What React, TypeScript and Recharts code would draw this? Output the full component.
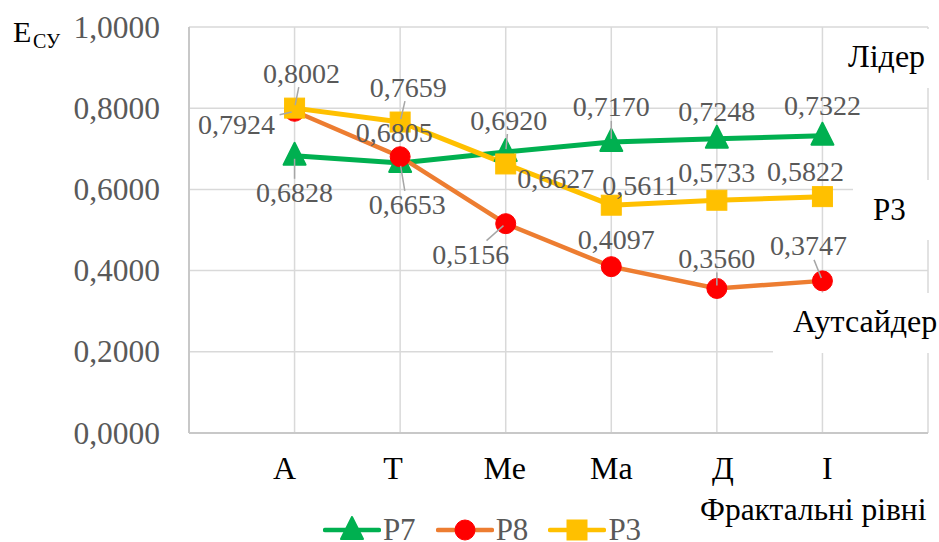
import React from 'react';
import { LineChart, Line, XAxis, YAxis, CartesianGrid, Legend, LabelList } from 'recharts';

const categories = ['А', 'Т', 'Ме', 'Ма', 'Д', 'І'];
const p7Values = [0.6828, 0.6653, 0.692, 0.717, 0.7248, 0.7322];
const p8Values = [0.7924, 0.6805, 0.5156, 0.4097, 0.356, 0.3747];
const p3Values = [0.8002, 0.7659, 0.6627, 0.5611, 0.5733, 0.5822];
const yTicks = [0, 0.2, 0.4, 0.6, 0.8, 1];
const xTicks = [0, 1, 2, 3, 4, 5, 6, 7];

const data = categories.map((cat, i) => ({
  pos: i + 1,
  cat,
  p7: p7Values[i],
  p8: p8Values[i],
  p3: p3Values[i],
}));

// small horizontal nudges of the category labels, as in the original
const xLabelNudge = [-10, -7, -1, 0, 6, 5];

// data label placement relative to the marker: [dx, dy, leader line?]
const p7Place = [[0, 37, 1], [7, 42, 1], [3, -32, 1], [0, -35, 1], [0, -27, 0], [0, -30, 0]];
const p8Place = [[-58, 13, 1], [-6, -24, 0], [-35, 31, 1], [5, -27, 0], [0, -30, 1], [-14, -35, 1]];
const p3Place = [[7, -35, 1], [8, -35, 1], [50, 15, 0], [29, -20, 0], [0, -28, 0], [-17, -25, 0]];

const FONT = "'Liberation Serif', 'Times New Roman', Times, serif";
const GREEN = '#00B050';
const ORANGE = '#ED7D31';
const RED = '#FF0000';
const YELLOW = '#FFC000';
const GRID = '#D9D9D9';
const GRAY_TEXT = '#595959';

const fmt = (v: number) => v.toFixed(4).replace('.', ',');

function makeLabel(place: number[][]) {
  return (props: any) => {
    const { x, y, value, index } = props;
    const [dx, dy, lead] = place[index];
    const lx = x + dx;
    const ly = y + dy;
    let leader = null;
    if (lead) {
      const hw = 43, hh = 14;
      const tx = dx !== 0 ? hw / Math.abs(dx) : Infinity;
      const ty = dy !== 0 ? hh / Math.abs(dy) : Infinity;
      const t = Math.min(tx, ty);
      const ex = lx - dx * t;
      const ey = ly - dy * t;
      const len = Math.hypot(ex - x, ey - y) || 1;
      const sx = x + ((ex - x) / len) * 3;
      const sy = y + ((ey - y) / len) * 3;
      leader = <line x1={sx} y1={sy} x2={ex} y2={ey} stroke="#A6A6A6" strokeWidth={1.5} />;
    }
    return (
      <g>
        {leader}
        <text x={lx} y={ly} textAnchor="middle" dominantBaseline="central"
          style={{ fontFamily: FONT, fontSize: 28 }} fill={GRAY_TEXT}>
          {fmt(value)}
        </text>
      </g>
    );
  };
}

function Triangle({ cx, cy, color }: any) {
  if (cx == null || cy == null) return null;
  return (
    <polygon points={`${cx},${cy - 13} ${cx - 11},${cy + 9} ${cx + 11},${cy + 9}`}
      fill={color} stroke={color} strokeWidth={2} strokeLinejoin="round" />
  );
}

function Circle({ cx, cy, color }: any) {
  if (cx == null || cy == null) return null;
  return <circle cx={cx} cy={cy} r={10} fill={color} stroke={color} strokeWidth={1} />;
}

function Square({ cx, cy, color }: any) {
  if (cx == null || cy == null) return null;
  return <rect x={cx - 10} y={cy - 10} width={20} height={20} fill={color} stroke={color} strokeWidth={1} />;
}

function XTick({ x, y, payload }: any) {
  const i = payload.value - 1;
  const label = categories[i];
  if (!label) return null;
  return (
    <text x={x + xLabelNudge[i]} y={y + 35} textAnchor="middle" dominantBaseline="central"
      style={{ fontFamily: FONT, fontSize: 32 }} fill="#000">
      {label}
    </text>
  );
}

function YTick({ x, y, payload }: any) {
  return (
    <text x={x} y={y} textAnchor="end" dominantBaseline="central"
      style={{ fontFamily: FONT, fontSize: 31.5 }} fill={GRAY_TEXT}>
      {fmt(payload.value)}
    </text>
  );
}

const legendItems = [
  { name: 'Р7', line: GREEN, marker: 'tri', fill: GREEN },
  { name: 'Р8', line: ORANGE, marker: 'circle', fill: RED },
  { name: 'Р3', line: YELLOW, marker: 'square', fill: YELLOW },
];

function LegendContent() {
  return (
    <div style={{ display: 'flex', justifyContent: 'center', paddingLeft: 36, paddingTop: 3 }}>
      {legendItems.map((it, i) => (
        <div key={it.name} style={{ display: 'flex', alignItems: 'center', marginLeft: i ? 20 : 0 }}>
          <svg width={58} height={30}>
            <line x1={2} y1={15} x2={56} y2={15} stroke={it.line} strokeWidth={4.5} strokeLinecap="round" />
            {it.marker === 'tri' && <Triangle cx={29} cy={15} color={it.fill} />}
            {it.marker === 'circle' && <Circle cx={29} cy={15} color={it.fill} />}
            {it.marker === 'square' && <Square cx={29} cy={15} color={it.fill} />}
          </svg>
          <span style={{ fontFamily: FONT, fontSize: 31, lineHeight: '30px', color: GRAY_TEXT, marginLeft: 2 }}>
            {it.name}
          </span>
        </div>
      ))}
    </div>
  );
}

export default function App() {
  return (
    <div style={{ position: 'absolute', left: 0, top: 0, width: 939, height: 542, background: '#fff', fontFamily: FONT }}>
      <LineChart width={939} height={542} data={data} margin={{ top: 27, right: 11, left: 0, bottom: 0 }}>
        <CartesianGrid stroke={GRID} strokeWidth={1.5} />
        <XAxis
          dataKey="pos"
          type="number"
          domain={[0, 7]}
          ticks={xTicks}
          interval={0}
          height={79}
          tickLine={false}
          tickSize={0}
          tickMargin={0}
          axisLine={{ stroke: '#C8C8C8', strokeWidth: 2 }}
          tick={<XTick />}
        />
        <YAxis
          domain={[0, 1]}
          ticks={yTicks}
          width={189}
          tickLine={false}
          tickSize={0}
          tickMargin={29}
          axisLine={{ stroke: '#C8C8C8', strokeWidth: 2 }}
          tick={<YTick />}
        />
        <Legend verticalAlign="bottom" height={30} content={<LegendContent />} />
        <Line dataKey="p7" name="Р7" stroke={GREEN} strokeWidth={5} isAnimationActive={false}
          dot={(p: any) => <Triangle key={`t${p.index}`} cx={p.cx} cy={p.cy} color={GREEN} />}
          activeDot={false}>
          <LabelList dataKey="p7" content={makeLabel(p7Place)} />
        </Line>
        <Line dataKey="p8" name="Р8" stroke={ORANGE} strokeWidth={4.5} isAnimationActive={false}
          dot={(p: any) => <Circle key={`c${p.index}`} cx={p.cx} cy={p.cy} color={RED} />}
          activeDot={false}>
          <LabelList dataKey="p8" content={makeLabel(p8Place)} />
        </Line>
        <Line dataKey="p3" name="Р3" stroke={YELLOW} strokeWidth={5} isAnimationActive={false}
          dot={(p: any) => <Square key={`s${p.index}`} cx={p.cx} cy={p.cy} color={YELLOW} />}
          activeDot={false}>
          <LabelList dataKey="p3" content={makeLabel(p3Place)} />
        </Line>
      </LineChart>
      <svg width={939} height={542} style={{ position: 'absolute', left: 0, top: 0, pointerEvents: 'none' }}>
        <g style={{ fontFamily: FONT }} fill="#000">
          <text x={13} y={42} fontSize={30}>Е</text>
          <text x={33} y={48} fontSize={20}>СУ</text>
          <rect x={843} y={29} width={96} height={59} fill="#fff" />
          <text x={848} y={67} fontSize={32}>Лідер</text>
          <rect x={853} y={180} width={86} height={60} fill="#fff" />
          <text x={873} y={220} fontSize={31}>Р3</text>
          <rect x={773} y={293} width={166} height={60} fill="#fff" />
          <text x={793} y={332} fontSize={32}>Аутсайдер</text>
          <text x={700} y={520} fontSize={31.5}>Фрактальні рівні</text>
        </g>
      </svg>
    </div>
  );
}
